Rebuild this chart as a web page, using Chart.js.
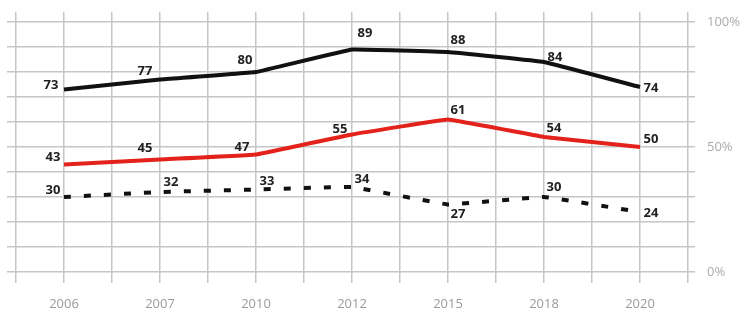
<!DOCTYPE html>
<html>
<head>
<meta charset="utf-8">
<script src="https://cdn.jsdelivr.net/npm/chart.js@4/dist/chart.umd.min.js"></script>
<style>
  html, body { margin: 0; padding: 0; background: #fff; }
  #wrap { width: 745px; height: 310px; position: relative; }
</style>
</head>
<body>
<div id="wrap"><canvas id="chart"></canvas></div>
<script>
const years = ["2006", "2007", "2010", "2012", "2015", "2018", "2020"];
const seriesTop = [73, 77, 80, 89, 88, 84, 74];
const seriesRed = [43, 45, 47, 55, 61, 54, 50];
const seriesDashed = [30, 32, 33, 34, 27, 30, 24];
const percentTicks = [0, 50, 100];

// label offsets from each point, px (dx, dy)
const labelOffsets = {
    top: [[-13, -4], [-15, -8], [-11, -12], [13, -16], [10, -12], [11, -5], [11, 1]],
    red: [[-11, -7], [-15, -11], [-14, -7], [-12, -5], [10, -9], [10, -9], [11, -8]],
    dashed: [[-11, -7], [11, -10], [11, -8], [10, -8], [10, 10], [10, -10], [11, 1]]
};

const toPoints = (values) => values.map((v, i) => ({ x: i * 2 + 1, y: v }));

const valueLabels = {
    id: "valueLabels",
    afterDatasetsDraw(chart) {
        const ctx = chart.ctx;
        ctx.save();
        ctx.font = "bold 13px 'Open Sans', sans-serif";
        ctx.fillStyle = "#222";
        ctx.textAlign = "center";
        ctx.textBaseline = "middle";
        chart.data.datasets.forEach((ds, di) => {
            const meta = chart.getDatasetMeta(di);
            const offs = labelOffsets[ds.key];
            meta.data.forEach((pt, i) => {
                ctx.fillText(String(ds.data[i].y), pt.x + offs[i][0], pt.y + offs[i][1]);
            });
        });
        ctx.restore();
    }
};

const gridColor = "#c6c6c6";
const grid = { color: gridColor, lineWidth: 1.5, tickColor: gridColor };

new Chart(document.getElementById("chart").getContext("2d"), {
    type: "line",
    data: {
        datasets: [
            {
                key: "top",
                data: toPoints(seriesTop),
                borderColor: "#111",
                borderWidth: 4,
                tension: 0.05,
                pointRadius: 0
            },
            {
                key: "red",
                data: toPoints(seriesRed),
                borderColor: "#e3221b",
                borderWidth: 4,
                tension: 0.05,
                pointRadius: 0
            },
            {
                key: "dashed",
                data: toPoints(seriesDashed),
                borderColor: "#111",
                borderWidth: 4,
                borderDash: [7, 13],
                tension: 0.05,
                pointRadius: 0
            }
        ]
    },
    options: {
        responsive: true,
        maintainAspectRatio: false,
        animation: false,
        layout: { padding: 0 },
        plugins: {
            legend: { display: false },
            tooltip: { enabled: false }
        },
        scales: {
            x: {
                type: "linear",
                position: "bottom",
                min: 0,
                max: 14,
                grid: { ...grid, tickLength: 11 },
                border: { display: false },
                ticks: {
                    stepSize: 1,
                    autoSkip: false,
                    maxRotation: 0,
                    padding: 13,
                    color: "#9a9a9a",
                    font: { family: "'Open Sans', sans-serif", size: 13 },
                    callback: (v) => (v % 2 === 1 ? years[(v - 1) / 2] : "")
                },
                afterFit: (s) => { s.height = 38; }
            },
            xTop: {
                type: "linear",
                position: "top",
                min: 0,
                max: 14,
                grid: { ...grid, tickLength: 10, drawOnChartArea: false },
                border: { display: false },
                ticks: { stepSize: 1, display: false },
                afterFit: (s) => { s.height = 22; }
            },
            y: {
                position: "right",
                min: 0,
                max: 100,
                grid: { ...grid, tickLength: 7 },
                border: { display: false },
                ticks: {
                    stepSize: 10,
                    autoSkip: false,
                    padding: 12,
                    color: "#ababab",
                    font: { family: "'Open Sans', sans-serif", size: 13 },
                    callback: (v) => (percentTicks.includes(v) ? v + "%" : "")
                },
                afterFit: (s) => { s.width = 57; }
            },
            yLeft: {
                position: "left",
                min: 0,
                max: 100,
                grid: { ...grid, tickLength: 9, drawOnChartArea: false },
                border: { display: false },
                ticks: { stepSize: 10, display: false },
                afterFit: (s) => { s.width = 16; }
            }
        }
    },
    plugins: [valueLabels]
});
</script>
</body>
</html>
